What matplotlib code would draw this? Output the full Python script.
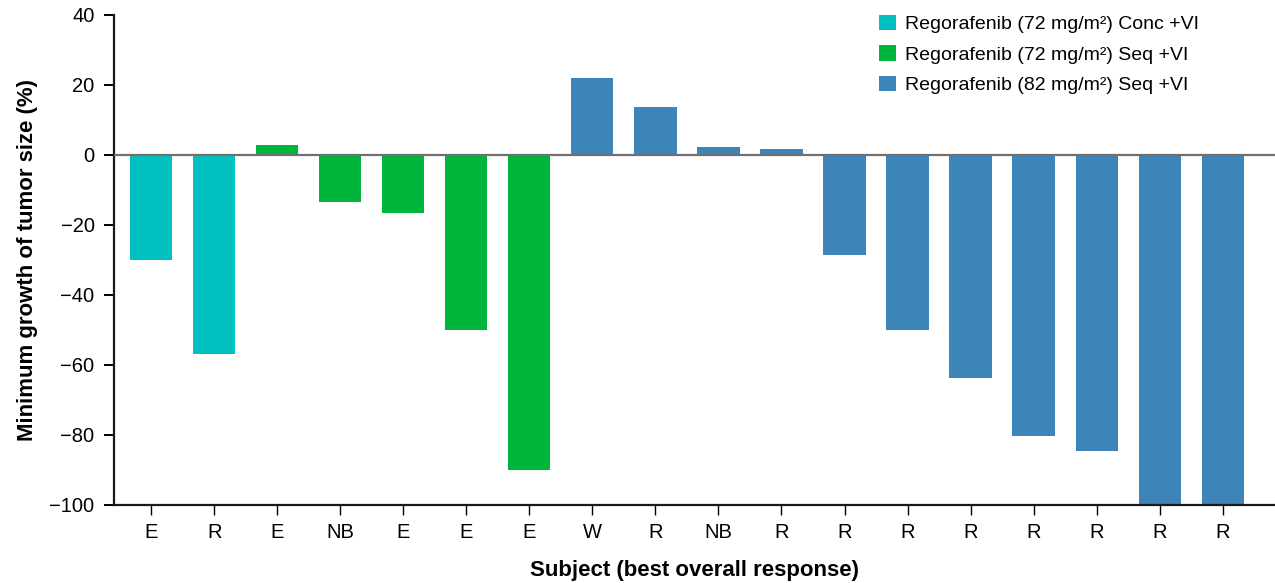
import matplotlib.pyplot as plt
from matplotlib.patches import Patch

plt.rcParams['font.family'] = ['Liberation Sans', 'DejaVu Sans']

# best overall response per subject, in plotting order
responses = ['E', 'R', 'E', 'NB', 'E', 'E', 'E', 'W', 'R', 'NB',
             'R', 'R', 'R', 'R', 'R', 'R', 'R', 'R']
# minimum growth of tumour size (%)
growth = [-30, -57, 2.9, -13.5, -16.5, -50, -90, 22, 13.7, 2.3,
          1.7, -28.6, -50, -63.7, -80.3, -84.6, -100, -100]
# treatment arm of each subject (index into arm_labels)
arm = [0, 0, 1, 1, 1, 1, 1, 2, 2, 2, 2, 2, 2, 2, 2, 2, 2, 2]

arm_labels = ['Regorafenib (72 mg/m\u00b2) Conc +VI',
              'Regorafenib (72 mg/m\u00b2) Seq +VI',
              'Regorafenib (82 mg/m\u00b2) Seq +VI']
arm_colors = ['#00C0C0', '#00B53B', '#3D84B8']

fig = plt.figure(figsize=(12.75, 5.83), dpi=100)
ax = fig.add_axes([0.0894, 0.1338, 0.9106, 0.8405])

x = list(range(len(growth)))
colors = [arm_colors[a] for a in arm]
ax.bar(x, growth, width=0.67, color=colors, zorder=2)
ax.axhline(0, color='#707070', linewidth=1.6, zorder=3)

ax.set_xlim(-0.59, 17.83)
ax.set_ylim(-100, 40)
ax.set_yticks(range(-100, 41, 20))
ax.set_xticks(x)
ax.set_xticklabels(responses)

for side in ['top', 'right']:
    ax.spines[side].set_visible(False)
for side in ['left', 'bottom']:
    ax.spines[side].set_linewidth(1.6)
    ax.spines[side].set_color('#1a1a1a')

ax.tick_params(axis='y', labelsize=14.5, length=7, width=1.4, pad=7)
ax.tick_params(axis='x', labelsize=14.5, length=7, width=1.0, pad=6)

ax.set_ylabel('Minimum growth of tumor size (%)', fontsize=16,
              fontweight='bold', labelpad=8)
ax.set_xlabel('Subject (best overall response)', fontsize=16,
              fontweight='bold', labelpad=13)

handles = [Patch(facecolor=c, edgecolor='none') for c in arm_colors]
fig.legend(handles, arm_labels, loc='upper left',
           bbox_to_anchor=(0.676, 1.005), frameon=False, fontsize=14,
           handlelength=0.85, handleheight=0.85, handletextpad=0.45,
           labelspacing=0.62)

fig.savefig('out.png', dpi=100)
